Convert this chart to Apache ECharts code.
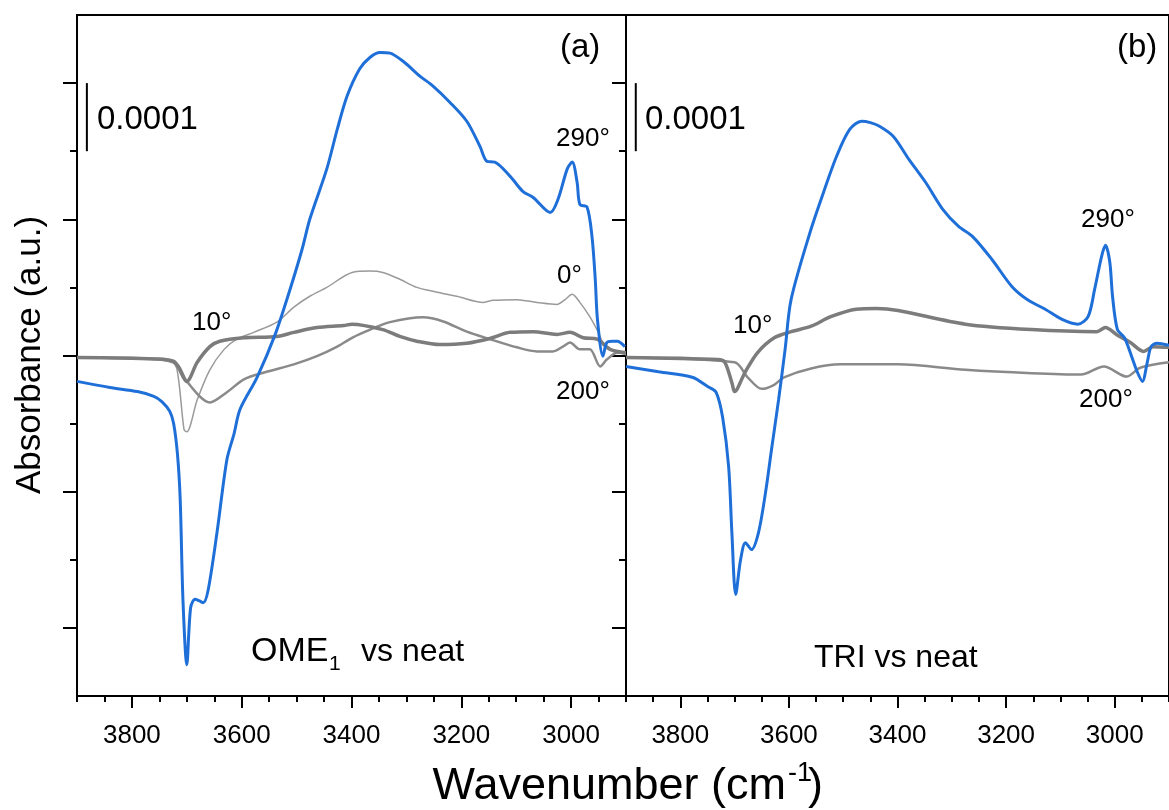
<!DOCTYPE html>
<html><head><meta charset="utf-8">
<script src="https://cdn.jsdelivr.net/npm/echarts@6/dist/echarts.min.js"></script>
<style>html,body{margin:0;padding:0;background:#fff}#c{width:1169px;height:810px}</style>
</head><body><div id="c"></div><script>
// Absorbance values in units of 1e-4 a.u. ; x = wavenumber (cm-1)
// Panel (a): OME1 vs neat
const ome_290 = [[3900,-0.38],[3840,-0.47],[3790,-0.53],[3760,-0.6],[3745,-0.68],[3731,-0.82],[3724,-1.0],[3717,-1.45],[3712,-2.12],[3707,-3.59],[3700,-4.54],[3693,-3.7],[3685,-3.58],[3678,-3.6],[3670,-3.63],[3661,-3.44],[3645,-2.60],[3627,-1.53],[3614,-1.15],[3603,-0.79],[3572,-0.32],[3539,0.31],[3512,0.97],[3490,1.56],[3476,2.00],[3445,2.74],[3426,3.32],[3408,3.81],[3385,4.21],[3366,4.38],[3348,4.45],[3330,4.44],[3306,4.32],[3275,4.10],[3252,3.96],[3221,3.72],[3190,3.44],[3166,3.07],[3153,2.85],[3139,2.84],[3111,2.63],[3088,2.41],[3069,2.32],[3038,2.10],[3024,2.29],[3007,2.74],[2998,2.84],[2989,2.54],[2984,2.22],[2971,2.18],[2962,1.75],[2956,1.12],[2952,0.53],[2942,-0.01],[2935,0.19],[2925,0.21],[2916,0.21],[2902,0.13]];
const ome_0 = [[3900,-0.03],[3760,-0.04],[3731,-0.06],[3718,-0.2],[3705,-1.09],[3700,-1.12],[3681,-0.65],[3658,-0.21],[3632,0.09],[3609,0.24],[3578,0.34],[3536,0.49],[3505,0.71],[3476,0.87],[3445,1.00],[3399,1.22],[3366,1.24],[3343,1.22],[3312,1.12],[3281,1.00],[3244,0.93],[3208,0.87],[3160,0.78],[3142,0.81],[3099,0.82],[3062,0.78],[3026,0.75],[3011,0.82],[2998,0.90],[2984,0.78],[2966,0.57],[2951,0.35],[2942,0.19],[2929,0.09],[2900,0.01]];
const ome_10 = [[3900,-0.03],[3760,-0.05],[3723,-0.09],[3700,-0.38],[3681,-0.10],[3658,0.13],[3640,0.21],[3596,0.26],[3536,0.28],[3505,0.34],[3463,0.41],[3414,0.44],[3399,0.46],[3343,0.38],[3312,0.28],[3281,0.21],[3239,0.16],[3190,0.18],[3148,0.25],[3111,0.34],[3069,0.35],[3026,0.31],[3002,0.34],[2978,0.26],[2953,0.24],[2929,0.09],[2900,0.04]];
const ome_200 = [[3900,-0.03],[3760,-0.05],[3718,-0.13],[3700,-0.38],[3658,-0.69],[3627,-0.54],[3596,-0.35],[3559,-0.25],[3505,-0.13],[3463,-0.01],[3426,0.13],[3399,0.26],[3366,0.38],[3330,0.49],[3270,0.56],[3233,0.50],[3190,0.35],[3148,0.24],[3099,0.12],[3062,0.06],[3033,0.06],[3015,0.13],[3002,0.19],[2984,0.09],[2966,0.09],[2947,-0.16],[2935,-0.06],[2916,0.04],[2900,0.04]];
// Panel (b): TRI vs neat
const tri_290 = [[3900,-0.16],[3840,-0.24],[3778,-0.32],[3749,-0.46],[3734,-0.54],[3722,-0.91],[3711,-1.63],[3705,-2.60],[3698,-3.51],[3689,-3.00],[3680,-2.75],[3669,-2.85],[3656,-2.60],[3643,-2.01],[3632,-1.38],[3619,-0.65],[3607,0.09],[3596,0.82],[3561,1.81],[3536,2.40],[3512,2.93],[3488,3.32],[3466,3.44],[3450,3.42],[3434,3.37],[3408,3.22],[3379,2.88],[3348,2.54],[3317,2.15],[3288,1.90],[3262,1.75],[3226,1.41],[3189,1.01],[3159,0.81],[3128,0.68],[3097,0.53],[3068,0.46],[3049,0.57],[3037,0.97],[3024,1.46],[3017,1.62],[3009,1.37],[3004,0.87],[2995,0.38],[2982,0.26],[2969,-0.01],[2958,-0.25],[2949,-0.38],[2940,-0.10],[2933,0.13],[2922,0.18],[2900,0.15]];
const tri_10 = [[3900,-0.03],[3731,-0.06],[3718,-0.10],[3705,-0.40],[3700,-0.53],[3681,-0.25],[3658,0.04],[3627,0.26],[3596,0.35],[3559,0.43],[3523,0.57],[3476,0.68],[3439,0.69],[3399,0.66],[3275,0.46],[3153,0.38],[3033,0.35],[3017,0.41],[2997,0.31],[2971,0.19],[2947,0.06],[2929,0.13],[2900,0.12]];
const tri_200 = [[3900,-0.03],[3700,-0.10],[3676,-0.32],[3650,-0.49],[3627,-0.43],[3609,-0.32],[3559,-0.19],[3505,-0.13],[3399,-0.13],[3275,-0.21],[3153,-0.26],[3062,-0.28],[3020,-0.16],[2978,-0.31],[2953,-0.18],[2900,-0.10]];
// scale bar: 0.0001 a.u. = 1 unit
const scaleBar = [[3882,3],[3882,4]];
// ticks
const xLabels = [3800,3600,3400,3200,3000];
const xMinor = [3900,3850,3750,3700,3650,3550,3500,3450,3350,3300,3250,3150,3100,3050,2950,2900];
const yMajor = [-4,-2,0,2,4];
const yMinor = [-3,-1,1,3];

const FONT = "'Liberation Sans', Arial, sans-serif";
const chart = echarts.init(document.getElementById('c'), null, {renderer:'canvas'});

function xAx(g, major){
  return {type:'value', gridIndex:g, min:2900, max:3900, inverse:true, position:'bottom',
    axisLine:{show:major, onZero:false, lineStyle:{color:'#000', width:2}},
    axisTick:{show:true, inside:false, length: major?12:6, customValues: major? xLabels : xMinor, lineStyle:{color:'#000', width:2}},
    axisLabel:{show:major, customValues:xLabels, formatter:(v)=>String(v), margin:27, fontSize:26, color:'#000', fontFamily:FONT},
    splitLine:{show:false}};
}
function yAx(g, major){
  return {type:'value', gridIndex:g, min:-5, max:5, position:'left',
    axisLine:{show:major, onZero:false, lineStyle:{color:'#000', width:2}},
    axisTick:{show:true, inside:false, length: major?14:7, customValues: major? yMajor : yMinor, lineStyle:{color:'#000', width:2}},
    axisLabel:{show:false}, splitLine:{show:false}};
}
function line(data, xi, yi, color, w, z){
  return {type:'line', data, xAxisIndex:xi, yAxisIndex:yi, showSymbol:false, symbol:'none', smooth:0.3,
    lineStyle:{color, width:w}, z, animation:false, silent:true};
}
function txt(x, y, t, size, extra){
  return Object.assign({type:'text', x, y, style:{text:t, fontSize:size, fontFamily:FONT, fill:'#000', verticalAlign:'middle', align:'left'}}, extra||{});
}

const option = {
  backgroundColor:'#fff', animation:false,
  grid:[
    {left:77, top:15, width:549, height:681, show:true, borderColor:'#000', borderWidth:2},
    {left:626, top:15, width:549, height:681, show:true, borderColor:'#000', borderWidth:2}
  ],
  xAxis:[xAx(0,true), xAx(0,false), xAx(1,true), xAx(1,false)],
  yAxis:[yAx(0,true), yAx(0,false), yAx(1,true), yAx(1,false)],
  series:[
    line(ome_0, 0, 0, '#9a9a9a', 1.5, 2),
    line(ome_200, 0, 0, '#8a8a8a', 2.5, 3),
    line(ome_10, 0, 0, '#7c7c7c', 3.5, 4),
    line(ome_290, 0, 0, '#1f6fd8', 3, 5),
    line(scaleBar, 0, 0, '#000', 2, 6),
    line(tri_200, 2, 2, '#8a8a8a', 2.5, 3),
    line(tri_10, 2, 2, '#7c7c7c', 3.5, 4),
    line(tri_290, 2, 2, '#1f6fd8', 3, 5),
    line(scaleBar, 2, 2, '#000', 2, 6)
  ],
  graphic:[
    txt(97, 120, '0.0001', 33),
    txt(645, 120, '0.0001', 33),
    txt(560, 48, '(a)', 33),
    txt(1117, 48, '(b)', 33),
    txt(556, 139, '290°', 26),
    txt(557, 276, '0°', 26),
    txt(192, 323, '10°', 26),
    txt(556, 392, '200°', 26),
    txt(733, 326, '10°', 26),
    txt(1081, 220, '290°', 26),
    txt(1079, 400, '200°', 26),
    txt(251, 652, 'OME', 34),
    txt(329, 664, '1', 21),
    txt(361, 652, 'vs neat', 32),
    txt(814, 658, 'TRI vs neat', 32),
    {type:'text', x:786, y:787, style:{text:'Wavenumber (cm', fontSize:45, fontFamily:FONT, fill:'#000', align:'right', verticalAlign:'middle'}},
    txt(788, 774, '-1', 27),
    txt(808, 787, ')', 45),
    {type:'text', x:30, y:355, rotation:Math.PI/2, style:{text:'Absorbance (a.u.)', fontSize:35, fontFamily:FONT, fill:'#000', align:'center', verticalAlign:'middle'}}
  ]
};
chart.setOption(option);
</script></body></html>
